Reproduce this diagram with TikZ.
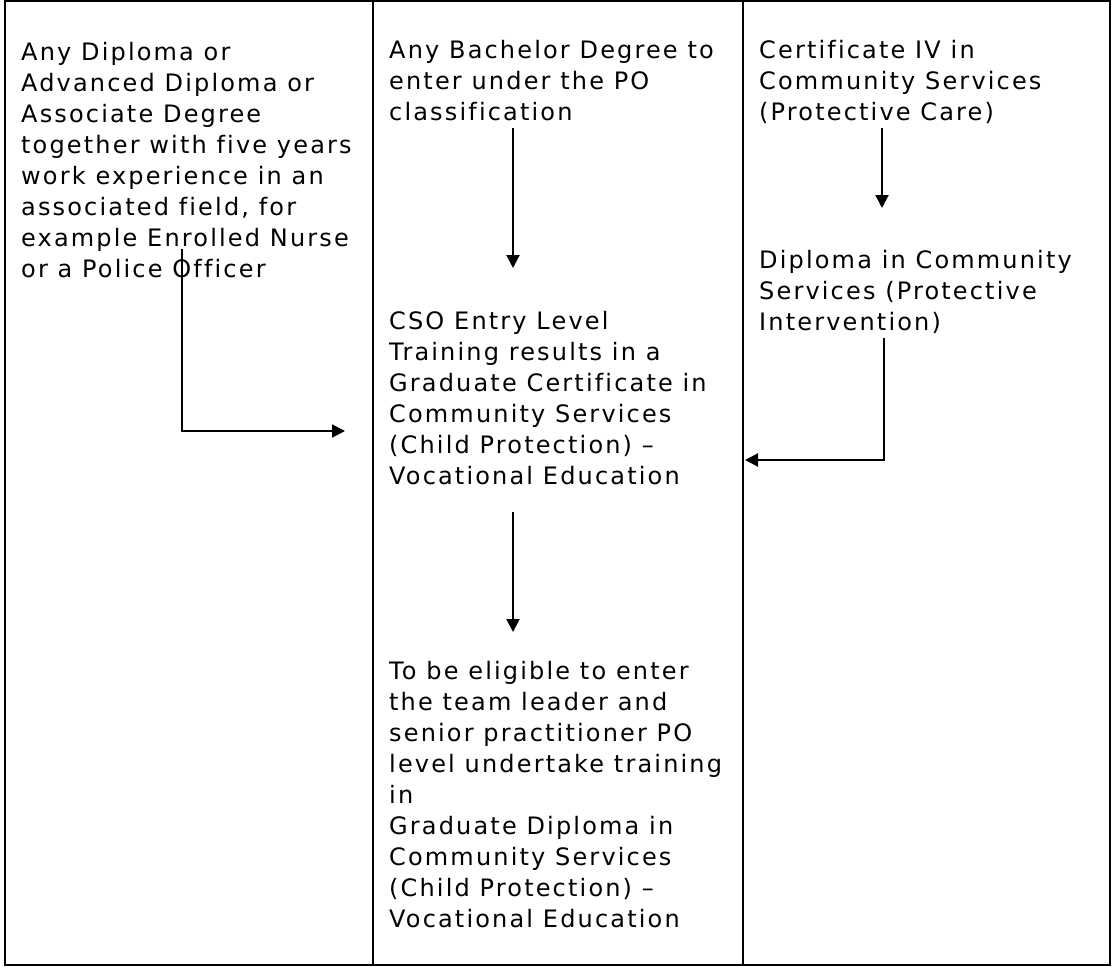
\documentclass[tikz,border=0pt]{standalone}
\usepackage{fontspec}
\setmainfont{DejaVu Sans}[LetterSpace=9,Ligatures=NoCommon]
\usetikzlibrary{arrows.meta}
\begin{document}
\begin{tikzpicture}[x=1pt,y=-1pt,
  frame/.style={line width=2pt,black},
  txt/.style={anchor=base west,inner sep=0pt,align=left,
    font=\fontsize{24pt}{31pt}\selectfont},
  arr/.style={line width=2pt,-{Triangle[length=13pt,width=13pt]}}]
\useasboundingbox (0,0) rectangle (1113,966);
\draw[frame] (4.5,1.5) rectangle (1110,964.5);
\draw[frame] (373,1.5) -- (373,964.5);
\draw[frame] (742.5,1.5) -- (742.5,964.5);
% base anchor = baseline of the last line
\node[txt] (a1) at (21,277) {Any Diploma or\\Advanced Diploma or\\Associate Degree\\together with five years\\work experience in an\\associated field, for\\example Enrolled Nurse\\or a Police Officer};
\node[txt] (b1) at (389,120) {Any Bachelor Degree to\\enter under the PO\\classification};
\node[txt] (c1) at (759,120) {Certificate IV in\\Community Services\\(Protective Care)};
\node[txt] (c2) at (759,330) {Diploma in Community\\Services (Protective\\Intervention)};
\node[txt] (b2) at (389,484) {CSO Entry Level\\Training results in a\\Graduate Certificate in\\Community Services\\(Child Protection) –\\Vocational Education};
\node[txt] (b3) at (389,927) {To be eligible to enter\\the team leader and\\senior practitioner PO\\level undertake training\\in\\Graduate Diploma in\\Community Services\\(Child Protection) –\\Vocational Education};
\coordinate (a1s) at (182,249);
\coordinate (b2w) at (345,431);
\coordinate (b1s) at (513,128);
\coordinate (b2n) at (513,268);
\coordinate (c1s) at (882,128);
\coordinate (c2n) at (882,208);
\coordinate (c2s) at (884,338);
\coordinate (b2e) at (745,460);
\coordinate (b2s) at (513,512);
\coordinate (b3n) at (513,632);
\draw[arr] (a1s) |- (b2w);
\draw[arr] (b1s) -- (b2n);
\draw[arr] (c1s) -- (c2n);
\draw[arr] (c2s) |- (b2e);
\draw[arr] (b2s) -- (b3n);
\end{tikzpicture}
\end{document}
